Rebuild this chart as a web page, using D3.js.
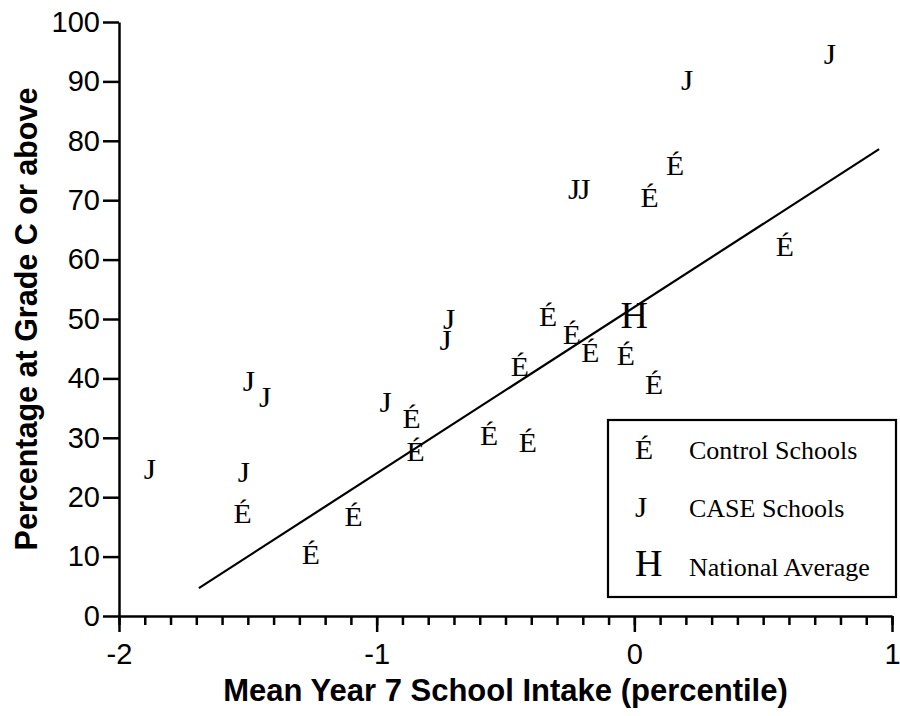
<!DOCTYPE html>
<html>
<head>
<meta charset="utf-8">
<script src="https://cdn.jsdelivr.net/npm/d3@7"></script>
<style>
  body { margin: 0; background: #fff; }
</style>
</head>
<body>
<div id="chart"></div>
<script>
// Control schools (drawn with the "É" glyph)
const controlX = [-1.52, -1.09, -1.256, -0.865, -0.849, -0.564, -0.413, -0.444, -0.335, -0.243, -0.171, -0.033, 0.077, 0.059, 0.158, 0.584];
const controlY = [17.1, 16.7, 10.3, 33.2, 27.7, 30.3, 29.1, 42.0, 50.4, 47.3, 44.2, 43.7, 38.9, 70.4, 75.7, 62.2];

// CASE schools (drawn with the "J" glyph)
const caseX = [-1.88, -1.515, -1.496, -1.433, -0.965, -0.719, -0.732, -0.234, -0.194, 0.205, 0.759];
const caseY = [24.8, 24.2, 39.6, 36.8, 36.0, 50.0, 46.4, 71.9, 71.9, 90.2, 94.6];

// National average (drawn with the "H" glyph)
const nationalX = [0.0];
const nationalY = [50.7];

// Regression line end points
const fitX = [-1.69, 0.95];
const fitY = [4.7, 78.6];

const xTicks = [-2, -1, 0, 1];
const xTickLabels = ["-2", "-1", "0", "1"];
const yTicks = [0, 10, 20, 30, 40, 50, 60, 70, 80, 90, 100];

const legendGlyphs = ["É", "J", "H"];
const legendLabels = ["Control Schools", "CASE Schools", "National Average"];

const xTitle = "Mean Year 7 School Intake (percentile)";
const yTitle = "Percentage at Grade C or above";

// Size of the page and of the plot area
let width = 900, height = 716;
let plotLeft = 119, plotRight = 892, plotTop = 22, plotBottom = 616;

let svg = d3.select("#chart")
  .append("svg")
  .attr("width", width)
  .attr("height", height);

let x = d3.scaleLinear().domain([-2, 1]).range([plotLeft, plotRight]);
let y = d3.scaleLinear().domain([0, 100]).range([plotBottom, plotTop]);

let serif = "'Liberation Serif', 'Times New Roman', serif";
let sans = "'Liberation Sans', Arial, sans-serif";

// Glyph styles for the three kinds of marker
let glyphStyle = {
  "É": { size: 27, weight: "normal", sx: 1.1 },
  "J": { size: 30, weight: "normal", sx: 1.05 },
  "H": { size: 38, weight: "normal", sx: 1.0 }
};

// Minor ticks on the x axis (every 0.1)
svg.append("g")
  .attr("transform", "translate(0," + plotBottom + ")")
  .call(d3.axisBottom(x).tickValues(d3.range(-20, 11).map(function(d) { return d / 10; }))
    .tickSize(9).tickSizeOuter(0).tickFormat(""))
  .call(function(g) { g.select(".domain").remove(); })
  .selectAll("line")
  .attr("stroke", "#000")
  .attr("stroke-width", 2.5);

// Major x axis
let xAxis = svg.append("g")
  .attr("transform", "translate(0," + plotBottom + ")")
  .call(d3.axisBottom(x).tickValues(xTicks).tickSize(16).tickSizeOuter(0).tickPadding(11)
    .tickFormat(function(d, i) { return xTickLabels[i]; }));

// y axis
let yAxis = svg.append("g")
  .attr("transform", "translate(" + plotLeft + ",0)")
  .call(d3.axisLeft(y).tickValues(yTicks).tickSize(16).tickSizeOuter(0).tickPadding(3));

[xAxis, yAxis].forEach(function(g) {
  g.attr("font-family", sans).attr("font-size", 29);
  g.selectAll("text").attr("fill", "#000");
  g.select(".domain").attr("stroke", "#000").attr("stroke-width", 2.5);
  g.selectAll("line").attr("stroke", "#000").attr("stroke-width", 2.5);
});

// Axis titles
svg.append("text")
  .attr("x", (plotLeft + plotRight) / 2)
  .attr("y", 701)
  .attr("text-anchor", "middle")
  .attr("font-family", sans)
  .attr("font-weight", "bold")
  .attr("font-size", 31)
  .text(xTitle);

svg.append("text")
  .attr("transform", "translate(37," + (plotTop + plotBottom) / 2 + ") rotate(-90)")
  .attr("text-anchor", "middle")
  .attr("font-family", sans)
  .attr("font-weight", "bold")
  .attr("font-size", 30.5)
  .text(yTitle);

// Regression line
svg.append("line")
  .attr("x1", x(fitX[0])).attr("y1", y(fitY[0]))
  .attr("x2", x(fitX[1])).attr("y2", y(fitY[1]))
  .attr("stroke", "#000")
  .attr("stroke-width", 2.2);

// Markers are letters, centred on the point
function drawGlyphs(xs, ys, glyph) {
  let st = glyphStyle[glyph];
  svg.append("g")
    .selectAll("text")
    .data(xs.map(function(d, i) { return [d, ys[i]]; }))
    .enter()
    .append("text")
    .attr("transform", function(d) {
      return "translate(" + x(d[0]) + "," + (y(d[1]) + 0.335 * st.size) + ") scale(" + st.sx + ",1)";
    })
    .attr("text-anchor", "middle")
    .attr("font-family", serif)
    .attr("font-weight", st.weight)
    .attr("font-size", st.size)
    .text(glyph);
}

drawGlyphs(controlX, controlY, "É");
drawGlyphs(caseX, caseY, "J");
drawGlyphs(nationalX, nationalY, "H");

// Legend
let legend = svg.append("g");
legend.append("rect")
  .attr("x", 608).attr("y", 420)
  .attr("width", 288).attr("height", 177)
  .attr("fill", "#fff")
  .attr("stroke", "#000")
  .attr("stroke-width", 2.2);

let rowBase = [459, 517, 576];
legendLabels.forEach(function(label, i) {
  let st = glyphStyle[legendGlyphs[i]];
  legend.append("text")
    .attr("transform", "translate(635," + rowBase[i] + ") scale(" + st.sx + ",1)")
    .attr("font-family", serif)
    .attr("font-weight", st.weight)
    .attr("font-size", st.size)
    .text(legendGlyphs[i]);
  legend.append("text")
    .attr("x", 689).attr("y", rowBase[i])
    .attr("font-family", serif)
    .attr("font-size", 26)
    .text(label);
});
</script>
</body>
</html>
